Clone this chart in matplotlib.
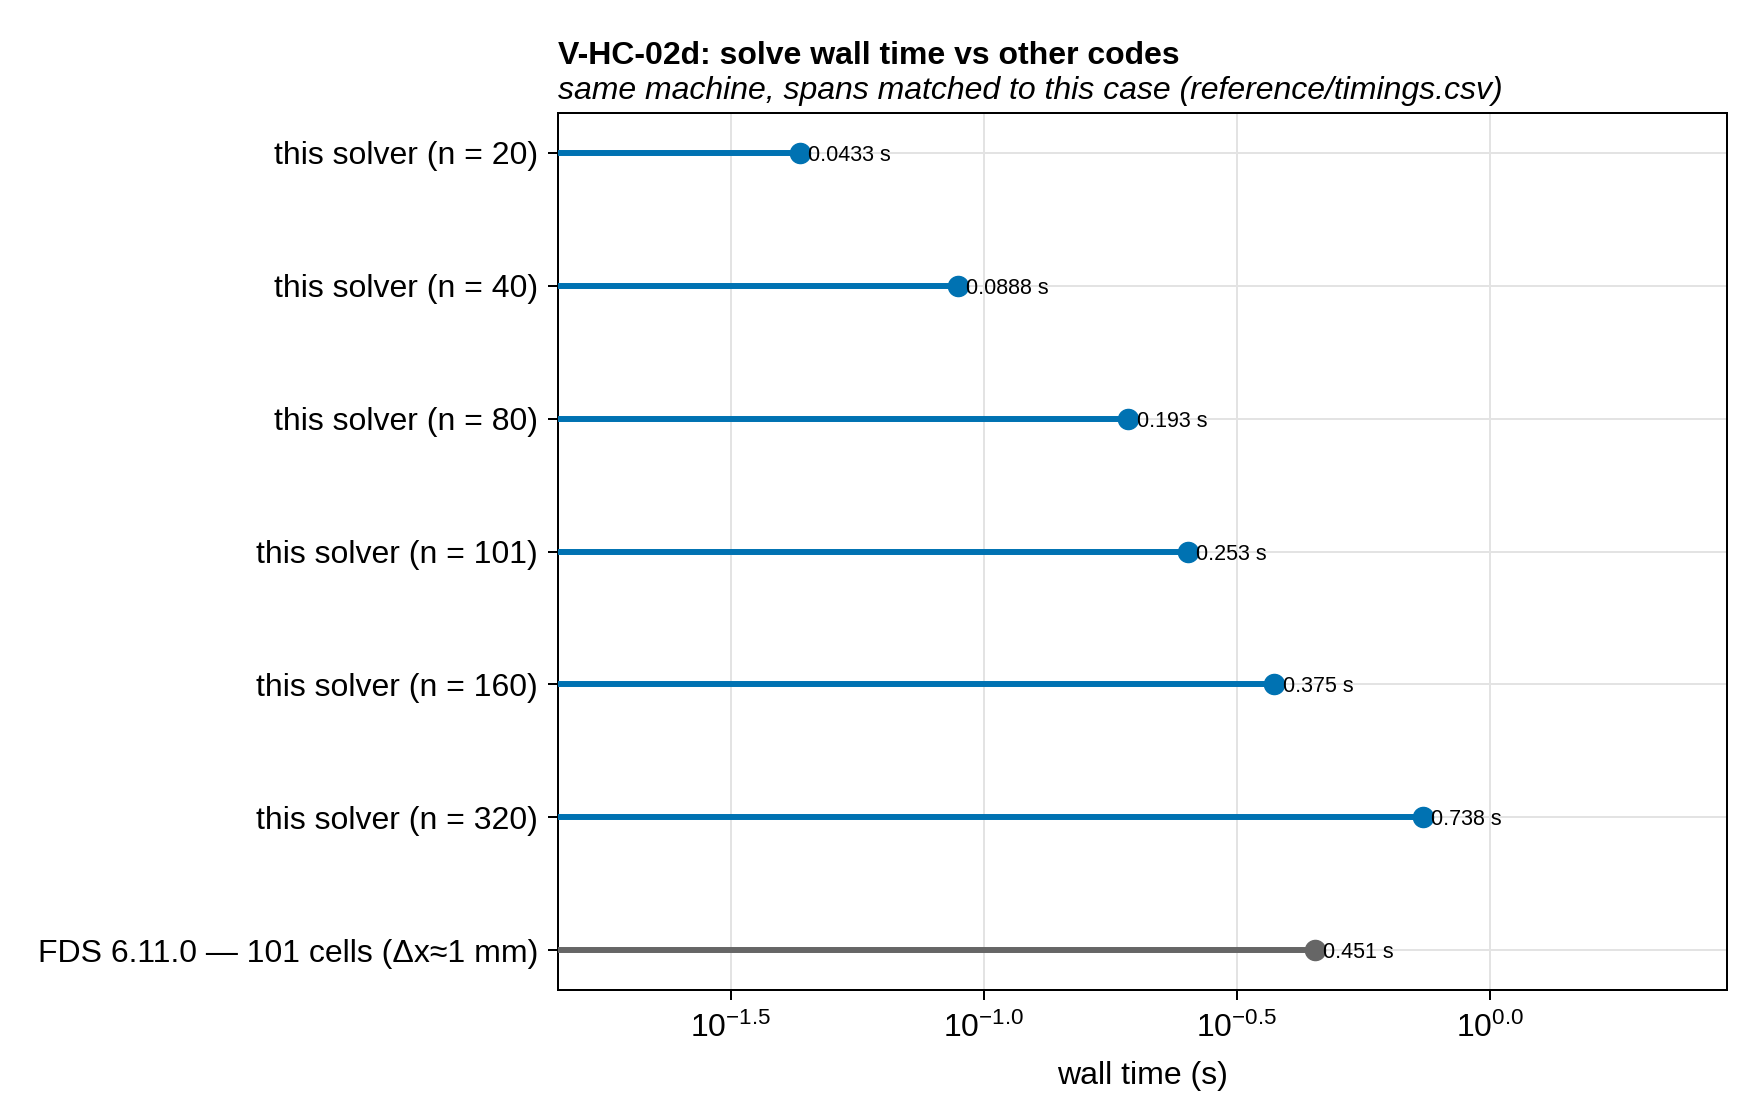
import matplotlib
matplotlib.use("Agg")
import matplotlib.pyplot as plt

plt.rcParams['font.family'] = ['Liberation Sans', 'DejaVu Sans']
plt.rcParams['mathtext.fontset'] = 'custom'
plt.rcParams['mathtext.rm'] = 'Liberation Sans'
plt.rcParams['mathtext.it'] = 'Liberation Sans:italic'
plt.rcParams['mathtext.bf'] = 'Liberation Sans:bold'

labels = ["this solver (n = 20)", "this solver (n = 40)", "this solver (n = 80)",
          "this solver (n = 101)", "this solver (n = 160)", "this solver (n = 320)",
          "FDS 6.11.0 \u2014 101 cells (\u0394x\u22481 mm)"]
times = [0.0433, 0.0888, 0.193, 0.253, 0.375, 0.738, 0.451]
is_ours = [True, True, True, True, True, True, False]

blue = "#0072B2"
gray = "#666666"
xmin, xmax = 0.0144, 2.94

fig = plt.figure(figsize=(17.6, 11.2), dpi=100)
ax = fig.add_axes([0.317, 0.116, 0.664, 0.783])

for i, (t, ours) in enumerate(zip(times, is_ours)):
    c = blue if ours else gray
    ax.plot([xmin * 0.5, t], [i, i], color=c, lw=4.3, solid_capstyle='butt', zorder=3)
    ax.plot(t, i, 'o', color=c, ms=14.5, zorder=4)
    ax.text(t * 1.04, i, f"{t:g} s", va='center_baseline', ha='left', fontsize=15.5, zorder=5)

ax.set_xscale('log')
ax.set_xlim(xmin, xmax)
ax.set_ylim(6.3, -0.3)
ticks = [10 ** -1.5, 10 ** -1.0, 10 ** -0.5, 1.0]
ax.set_xticks(ticks)
ax.set_xticklabels([r"$10^{-1.5}$", r"$10^{-1.0}$", r"$10^{-0.5}$", r"$10^{0.0}$"])
ax.minorticks_off()
ax.set_yticks(range(len(labels)))
ax.set_yticklabels(labels)

ax.grid(True, color='#e3e3e3', lw=1.4, zorder=0)
ax.set_axisbelow(True)
for s in ax.spines.values():
    s.set_linewidth(1.44)
ax.tick_params(axis='both', direction='out', length=7.2, width=1.44, labelsize=23)
ax.tick_params(axis='x', pad=9)
ax.tick_params(axis='y', pad=7)
ax.set_xlabel("wall time (s)", fontsize=23, labelpad=12)

fig.text(0.317, 0.943, "V-HC-02d: solve wall time vs other codes", fontsize=23,
         fontweight='bold', ha='left', va='baseline')
fig.text(0.317, 0.912, "same machine, spans matched to this case (reference/timings.csv)",
         fontsize=23, style='italic', ha='left', va='baseline')

fig.savefig("out.png", dpi=100)
